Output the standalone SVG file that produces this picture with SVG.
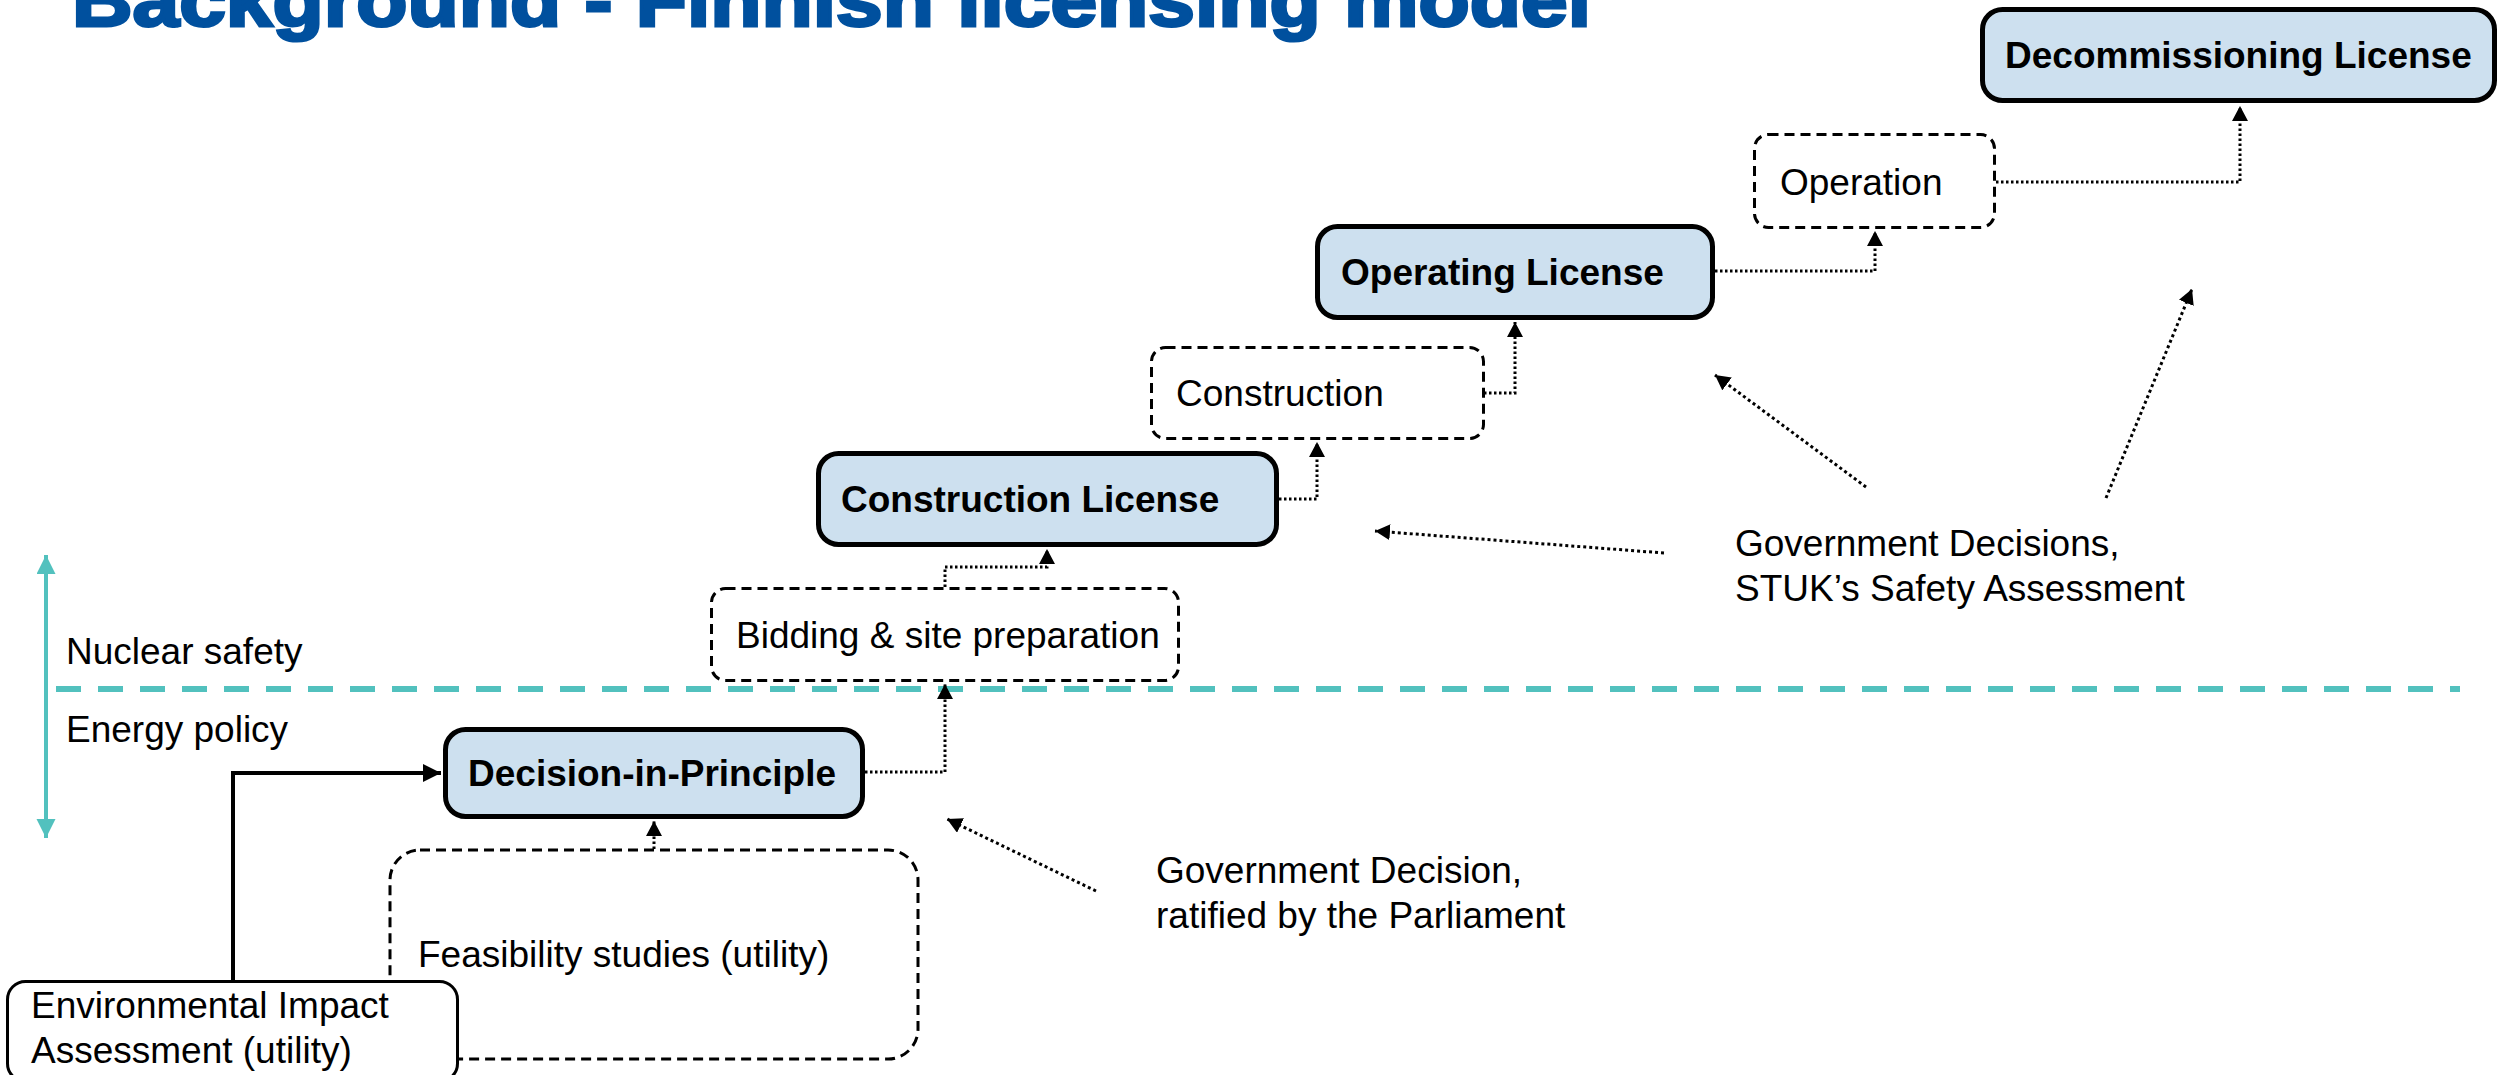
<svg xmlns="http://www.w3.org/2000/svg" width="2501" height="1075" viewBox="0 0 2501 1075">
<defs>
<style>
.t{font-family:"Liberation Sans",Arial,sans-serif;font-size:37px;fill:#000}
.b{font-weight:bold}
.lic{fill:#CDE0EF;stroke:#000;stroke-width:5}
.step{fill:#fff;stroke:#000;stroke-width:3;stroke-dasharray:10 6}
.dot{fill:none;stroke:#000;stroke-width:3;stroke-dasharray:2.5 2.5}
.ann{fill:none;stroke:#000;stroke-width:3;stroke-dasharray:3 3}
</style>
<marker id="ah" markerUnits="userSpaceOnUse" markerWidth="16" markerHeight="16" refX="15" refY="8" orient="auto">
<path d="M0,0 L15,8 L0,16 z" fill="#000"/>
</marker>
<marker id="ahs" markerUnits="userSpaceOnUse" markerWidth="19" markerHeight="18" refX="18" refY="9" orient="auto">
<path d="M0,0 L18,9 L0,18 z" fill="#000"/>
</marker>
<marker id="aht" markerUnits="userSpaceOnUse" markerWidth="20" markerHeight="20" refX="19" refY="9.5" orient="auto-start-reverse">
<path d="M0,0 L19,9.5 L0,19 z" fill="#52C1BE"/>
</marker>
</defs>
<rect width="2501" height="1075" fill="#fff"/>

<text x="72" y="26" font-family="'Liberation Sans',Arial,sans-serif" font-size="74" font-weight="bold" fill="#00509E" stroke="#00509E" stroke-width="3" textLength="1519" lengthAdjust="spacingAndGlyphs">Background - Finnish licensing model</text>

<g id="axis">
<line x1="46" y1="555" x2="46" y2="838" stroke="#52C1BE" stroke-width="4" marker-start="url(#aht)" marker-end="url(#aht)"/>
<line x1="56" y1="689" x2="2460" y2="689" stroke="#52C1BE" stroke-width="6" stroke-dasharray="25 17"/>
<text class="t" x="66" y="664">Nuclear safety</text>
<text class="t" x="66" y="742">Energy policy</text>
</g>

<g id="connectors">
<path class="dot" d="M1996,182 H2240 V106" marker-end="url(#ah)"/>
<path class="dot" d="M1715,271 H1875 V231" marker-end="url(#ah)"/>
<path class="dot" d="M1484,393 H1515 V322" marker-end="url(#ah)"/>
<path class="dot" d="M1279,499 H1317 V442" marker-end="url(#ah)"/>
<path class="dot" d="M945,587 V567 H1047 V549" marker-end="url(#ah)"/>
<path class="dot" d="M865,772 H945 V684" marker-end="url(#ah)"/>
<path class="dot" d="M654,849 V821" marker-end="url(#ah)"/>
<path d="M233,980 V773 H441" fill="none" stroke="#000" stroke-width="4" marker-end="url(#ahs)"/>
<line class="ann" x1="1096" y1="891" x2="947" y2="819" marker-end="url(#ah)"/>
<line class="ann" x1="1866" y1="487" x2="1715" y2="375" marker-end="url(#ah)"/>
<line class="ann" x1="2106" y1="498" x2="2192" y2="289" marker-end="url(#ah)"/>
<line class="ann" x1="1664" y1="553" x2="1375" y2="531" marker-end="url(#ah)"/>
</g>

<g id="feasibility">
<rect class="step" x="390" y="850" width="528" height="209" rx="30"/>
<text class="t" x="418" y="967">Feasibility studies (utility)</text>
</g>
<g id="eia">
<rect x="7.5" y="981.5" width="450" height="100" rx="18" fill="#fff" stroke="#000" stroke-width="3"/>
<text class="t" x="31" y="1018">Environmental Impact</text>
<text class="t" x="31" y="1063">Assessment (utility)</text>
</g>
<g id="dip">
<rect class="lic" x="445.5" y="729.5" width="417" height="87" rx="20"/>
<text class="t b" x="468" y="786">Decision-in-Principle</text>
</g>
<g id="bidding">
<rect class="step" x="711.5" y="588.5" width="467" height="92" rx="14"/>
<text class="t" x="736" y="648">Bidding &amp; site preparation</text>
</g>
<g id="construction-license">
<rect class="lic" x="818.5" y="453.5" width="458" height="91" rx="20"/>
<text class="t b" x="841" y="512">Construction License</text>
</g>
<g id="construction">
<rect class="step" x="1151.5" y="347.5" width="332" height="91" rx="14"/>
<text class="t" x="1176" y="406">Construction</text>
</g>
<g id="operating-license">
<rect class="lic" x="1317.5" y="226.5" width="395" height="91" rx="20"/>
<text class="t b" x="1341" y="285">Operating License</text>
</g>
<g id="operation">
<rect class="step" x="1754.5" y="134.5" width="240" height="93" rx="14"/>
<text class="t" x="1780" y="195">Operation</text>
</g>
<g id="decommissioning-license">
<rect class="lic" x="1982.5" y="9.5" width="512" height="91" rx="20"/>
<text class="t b" x="2005" y="68">Decommissioning License</text>
</g>

<g id="annotations">
<text class="t" x="1156" y="883">Government Decision,</text>
<text class="t" x="1156" y="928">ratified by the Parliament</text>
<text class="t" x="1735" y="556">Government Decisions,</text>
<text class="t" x="1735" y="601">STUK’s Safety Assessment</text>
</g>
</svg>
